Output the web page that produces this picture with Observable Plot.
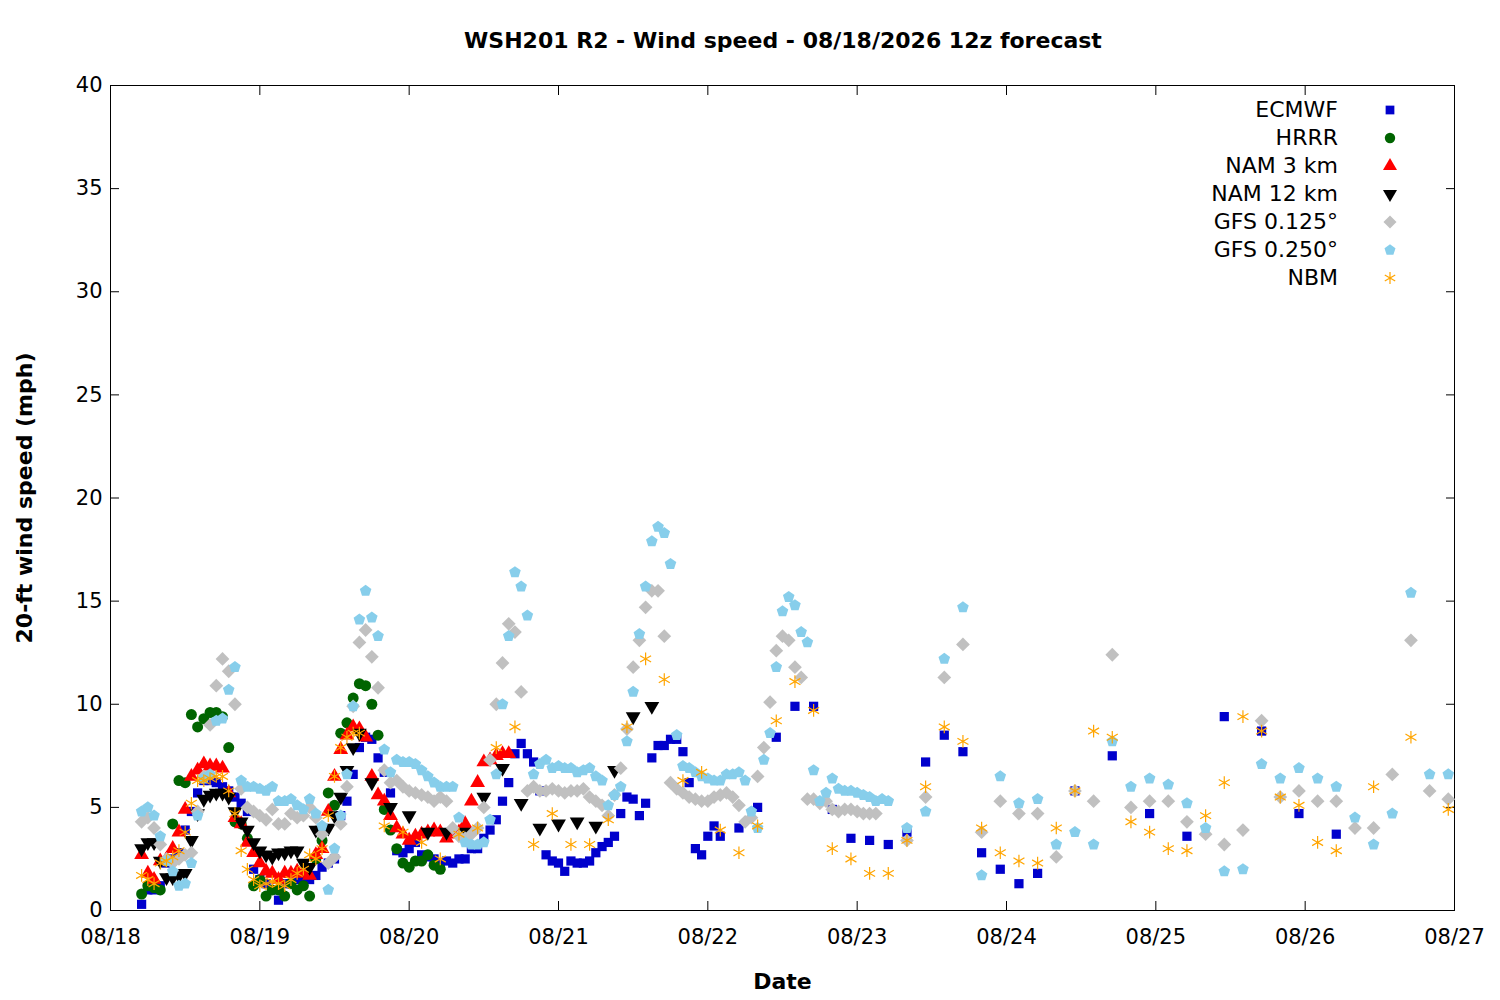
<!DOCTYPE html>
<html><head><meta charset="utf-8">
<script src="https://cdn.jsdelivr.net/npm/d3@7"></script>
<script src="https://cdn.jsdelivr.net/npm/@observablehq/plot@0.6"></script>
<style>
body{margin:0;background:#fff;font-family:"DejaVu Sans",sans-serif;}
#wrap{position:relative;width:1500px;height:1000px;}
#title{position:absolute;top:28px;left:0;width:1566px;text-align:center;font-weight:bold;font-size:22px;}
#legend{position:absolute;top:96px;left:1000px;width:400px;font-size:22px;}
#legend div{height:28px;line-height:28px;text-align:right;position:relative;padding-right:62px;}
#legend svg{position:absolute;right:0;top:4px;}
#chart{position:absolute;top:60px;left:0;}
</style></head><body>
<div id="wrap"><div id="title">WSH201 R2 - Wind speed - 08/18/2026 12z forecast</div><div id="chart"></div><div id="legend"></div></div>
<script>
const dayLabels=["08/18","08/19","08/20","08/21","08/22","08/23","08/24","08/25","08/26","08/27"];
// hours since 08/18 00 ; [startHour, step, values]
const hrrr=[5,1,[0.8,1.2,1.1,1.0,2.4,4.2,6.3,6.2,9.5,8.9,9.3,9.6,9.6,9.4,7.9,4.3,4.2,3.5,1.2,1.5,0.7,1.0,1.0,0.7,1.3,1.0,1.2,0.7,2.5,3.4,5.7,5.1,8.6,9.1,10.3,11.0,10.9,10.0,8.5,4.9,3.9,3.0,2.3,2.1,2.4,2.4,2.7,2.2,2.0]];
const nam3=[5,1,[2.7,1.8,1.5,2.4,2.5,3.0,3.8,4.9,6.5,6.8,7.1,7.0,7.0,6.9,5.7,4.5,4.2,3.3,2.8,2.3,1.9,1.8,1.5,1.8,1.8,1.9,1.8,1.7,2.7,3.0,4.8,6.5,7.8,8.5,8.9,8.8,8.4,6.5,5.6,5.3,4.6,4.0,3.7,3.4,3.6,3.7,3.8,3.9,3.8,3.5,3.7,3.8,4.2,5.3,6.2,7.2,7.3,7.5,7.6,7.6]];
const nam12a=[5,1,[3.0,3.3,3.3,2.4,1.6,1.6,1.7,1.8,3.4,4.7,5.4,5.6,5.7,5.7,5.5,4.8,4.3,3.9,3.3,2.9,2.7,2.6,2.8,2.8,2.9,2.9,2.3,2.1,3.9,3.9,4.0,4.6,5.5,6.8,7.9,8.6]];
const nam12b=[42,3,[6.2,5.0,4.6,3.8,3.8,3.8,5.5,6.9,5.2,4.0,4.2,4.3,4.1,6.8,9.4,9.9]];
const gfs25a=[5,1,[4.8,5.0,4.6,3.6,2.4,1.9,1.2,1.3,2.3,4.6,6.4,6.6,9.2,9.3,10.7,11.8,6.3,6.0,6.0,5.9,5.8,6.0,5.3,5.3,5.4,5.1,4.9,5.4,4.7,4.1,1.0,3.0,4.6,6.6,9.9,14.1,15.5,14.2,13.3,7.8,6.7,7.3,7.2,7.2,7.1,6.8,6.5,6.2,6.0,6.0,6.0,4.5,3.3,3.2,3.2,3.3,4.4,6.6,10.0,13.3,16.4,15.7,14.3,6.6,7.1,7.3,6.9,7.0,6.9,6.9,6.7,6.8,6.9,6.5,6.3,5.1,5.6,6.0,8.2,10.6,13.4,15.7,17.9,18.6,18.3,16.8,8.5,7.0,6.9,6.7,6.5,6.4,6.3,6.3,6.6,6.6,6.7,6.3,4.8,4.0,7.3,8.6,11.8,14.5,15.2,14.8,13.5,13.0,6.8,5.3,5.7,6.4,5.9,5.8,5.8,5.7,5.6,5.5,5.3,5.4,5.3]];
const gfs25b=[128,3,[4.0,4.8,12.2,14.7,1.7,6.5,5.2,5.4,3.2,3.8,3.2,8.2,6.0,6.4,6.1,5.2,4.0,1.9,2.0,7.1,6.4,6.9,6.4,6.0,4.5,3.2,4.7,15.4,6.6,6.6]];
const gfs125a=[5,1,[4.3,4.5,4.0,3.2,2.5,2.3,2.5,2.7,2.8,4.8,6.5,9.0,10.9,12.2,11.6,10.0,5.9,5.0,4.8,4.6,4.4,4.9,4.2,4.2,4.7,4.5,4.6,5.0,4.5,3.7,2.3,2.6,4.2,6.0,9.9,13.0,13.6,12.3,10.8,6.8,6.2,6.3,6.0,5.8,5.7,5.6,5.5,5.3,5.5,5.3,4.0,3.6,3.5,3.7,4.0,5.0,7.3,10.0,12.0,13.9,13.5,10.6,5.8,6.0,5.8,5.8,5.9,5.8,5.7,5.8,5.8,5.9,5.5,5.3,5.1,4.6,5.6,6.9,8.8,11.8,13.1,14.7,15.5,15.5,13.3,6.2,5.9,5.7,5.5,5.4,5.3,5.3,5.5,5.6,5.7,5.5,5.1,4.3,4.5,6.5,7.9,10.1,12.6,13.3,13.1,11.8,11.3,5.4,5.4,5.2,5.3,4.9,4.8,4.9,4.9,4.8,4.7,4.7,4.7]];
const gfs125b=[128,3,[3.4,5.5,11.3,12.9,3.8,5.3,4.7,4.7,2.6,5.8,5.3,12.4,5.0,5.3,5.3,4.3,3.7,3.2,3.9,9.2,5.5,5.8,5.3,5.3,4.0,4.0,6.6,13.1,5.8,5.4]];
const ecmwfa=[5,1,[0.3,1.0,1.0,1.2,2.3,2.5,2.8,3.9,4.8,5.7,6.3,6.3,6.2,6.0,5.8,5.5,5.2,4.8,2.0,1.5,1.3,1.0,0.5,1.3,1.3,1.5,1.6,1.5,1.7,2.1,2.3,2.5,4.6,5.3,6.6,7.9,8.4,8.3,7.4,6.7,5.7,2.9,2.8,3.0,3.3,2.7,2.6,2.5,2.3,2.4,2.3,2.5,2.5,3.0,3.0,3.5,3.9,4.4,5.3,6.2,7.6,8.1,7.6,7.2,5.8,2.7,2.4,2.3,1.9,2.4,2.3,2.3,2.4,2.8,3.1,3.3,3.6,4.7,5.5,5.4,4.6,5.2,7.4,8.0,8.0,8.3,8.3,7.7,6.2,3.0,2.7,3.6,4.1]];
const ecmwfb=[98,3,[3.6,4.0,5.0,8.4,9.9,9.9,4.9,3.5,3.4,3.2,3.8,7.2,8.5,7.7,2.8,2.0,1.3,1.8]];
const ecmwfc=[155,6,[5.8,7.5,4.7,3.6,9.4,8.7,4.7,3.7]];
const nbma=[5,1,[1.7,1.5,1.3,2.3,2.4,2.6,2.9,3.8,5.2,6.3,6.3,6.4,6.5,6.5,5.8,4.7,2.9,2.0,1.5,1.2,1.3,1.4,1.3,1.2,1.5,1.8,2.0,2.7,2.5,3.0,4.6,6.5,7.9,8.4,8.6,8.6]];
const nbmb=[44,3,[4.1,3.8,3.3,2.5,3.7,4.0,7.9,8.9,3.2,4.7,3.2,3.2,4.4,8.9,12.2,11.2,6.3,6.7,3.9,2.8,4.1,9.2,11.1,9.7,3.0,2.5,1.8,1.8,3.4,6.0,8.9,8.2,4.0,2.8,2.4,2.3,4.0,5.8,8.7,8.4,4.3,3.8,3.0,2.9,4.6,6.2,9.4,8.7,5.5,5.1,3.3,2.9,null,6.0,null,8.4,null,4.9]];

const expand=(...parts)=>parts.flatMap(([s,st,v])=>v.map((y,i)=>({x:s+i*st,y})).filter(d=>d.y!=null));
const triDown={draw(c,size){const s=Math.sqrt(size/(Math.sqrt(3)/4));const h=s*Math.sqrt(3)/2;c.moveTo(-s/2,-h/3);c.lineTo(s/2,-h/3);c.lineTo(0,2*h/3);c.closePath();}};
const pent={draw(c,size){const r=Math.sqrt(size/2.38);for(let i=0;i<5;i++){const a=-Math.PI/2+i*2*Math.PI/5;const x=r*Math.cos(a),y=r*Math.sin(a);i?c.lineTo(x,y):c.moveTo(x,y);}c.closePath();}};
const sq={draw(c,size){const s=Math.sqrt(size)/2;c.rect(-s,-s,2*s,2*s);}};
const dia={draw(c,size){const s=Math.sqrt(size/2);c.moveTo(0,-s);c.lineTo(s,0);c.lineTo(0,s);c.lineTo(-s,0);c.closePath();}};
const series=[
 {name:"ECMWF",data:expand(ecmwfa,ecmwfb,ecmwfc),color:"#0000cc",symbol:sq,r:5.2},
 {name:"HRRR",data:expand(hrrr),color:"#006400",symbol:d3.symbolCircle,r:5.5},
 {name:"NAM 3 km",data:expand(nam3),color:"#ff0000",symbol:d3.symbolTriangle,r:5.5},
 {name:"NAM 12 km",data:expand(nam12a,nam12b),color:"#000000",symbol:triDown,r:5.5},
 {name:"GFS 0.125°",data:expand(gfs125a,gfs125b),color:"#c0c0c0",symbol:dia,r:5.5},
 {name:"GFS 0.250°",data:expand(gfs25a,gfs25b),color:"#87ceeb",symbol:pent,r:5.3},
 {name:"NBM",data:expand(nbma,nbmb),color:"#ffa500",symbol:d3.symbolAsterisk,r:6,stroke:true}
];
const marks=[];
for(const s of series){
  marks.push(Plot.dot(s.data,{x:"x",y:"y",symbol:()=>s.symbol,r:s.r,fill:s.stroke?"none":s.color,stroke:s.stroke?s.color:"none",strokeWidth:1.2}));
}
const fmt=d=>dayLabels[d/24];
const chart=Plot.plot({
  width:1500,height:940,marginTop:25,marginBottom:90,marginLeft:110,marginRight:46,
  style:{fontFamily:"DejaVu Sans, sans-serif",fontSize:"21px",color:"#000"},
  symbol:{type:"identity"},
  x:{domain:[0,216]},
  y:{domain:[0,40]},
  marks:[
    Plot.frame({stroke:"#000",strokeWidth:1}),
    Plot.axisX({ticks:d3.range(0,217,24),tickFormat:fmt,tickSize:-9,tickPadding:28,label:"Date",labelAnchor:"center",labelArrow:"none",labelOffset:78,fontSize:21}),
    Plot.axisX({anchor:"top",ticks:d3.range(0,217,24),tickFormat:()=>"",tickSize:-9,label:null}),
    Plot.axisY({ticks:d3.range(0,41,5),tickSize:-9,tickPadding:17,label:"20-ft wind speed (mph)",labelAnchor:"center",labelArrow:"none",labelOffset:94,fontSize:21}),
    Plot.axisY({anchor:"right",ticks:d3.range(0,41,5),tickFormat:()=>"",tickSize:-9,label:null}),
    ...marks
  ]
});
chart.querySelectorAll("g[aria-label='x-axis label'] text, g[aria-label='y-axis label'] text").forEach(t=>{t.style.fontWeight="bold";t.style.fontSize="22px";});
document.getElementById("chart").appendChild(chart);
const leg=document.getElementById("legend");
for(const s of series){
  const div=document.createElement("div");div.textContent=s.name;
  const svg=d3.create("svg").attr("width",20).attr("height",20);
  const g=svg.append("g").attr("transform","translate(10,10)");
  const size=s.r*s.r*Math.PI*0.9;
  g.append("path").attr("d",d3.symbol(s.symbol,size)()).attr("fill",s.stroke?"none":s.color).attr("stroke",s.stroke?s.color:"none").attr("stroke-width",1.2);
  div.appendChild(svg.node());leg.appendChild(div);
}
</script></body></html>
